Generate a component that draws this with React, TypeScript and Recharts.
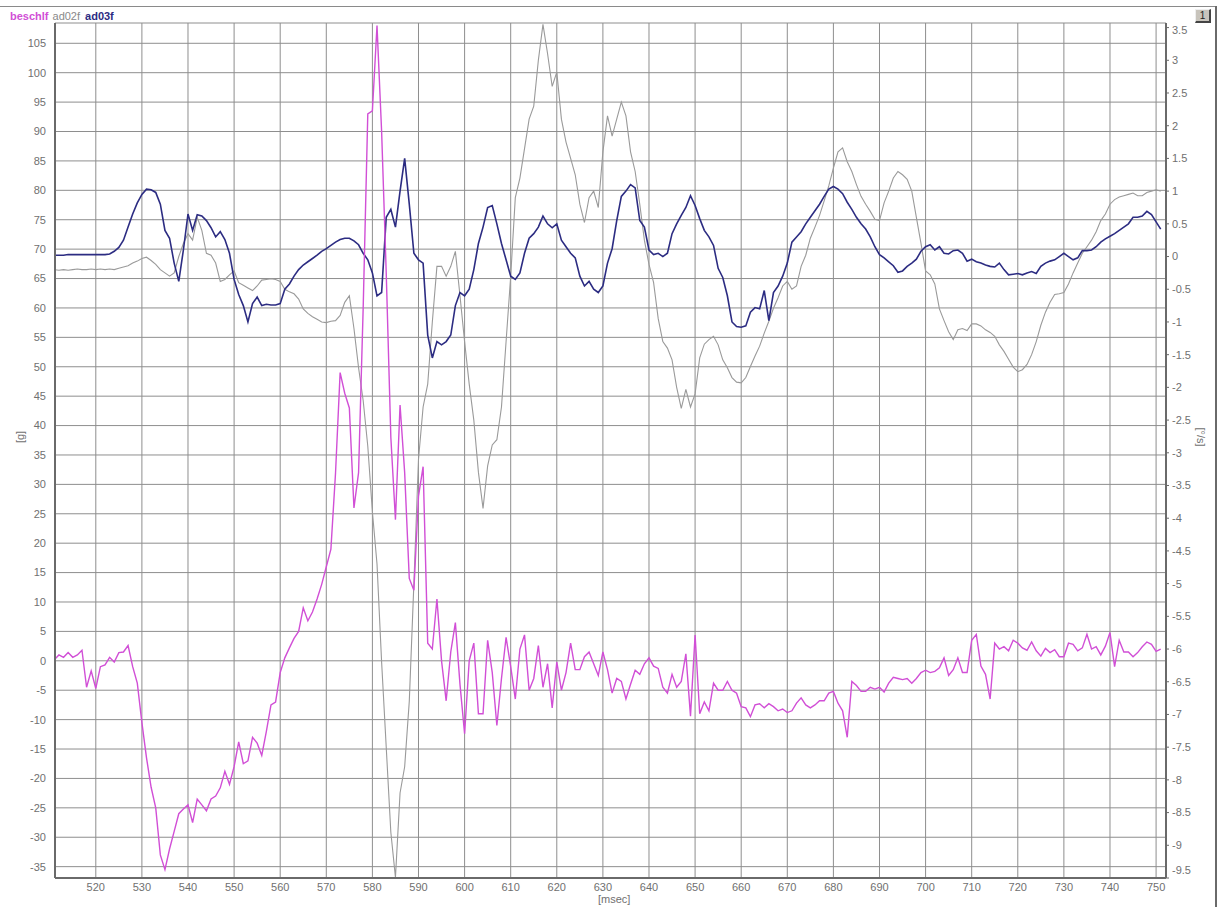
import React from 'react'
import { LineChart, Line, XAxis, YAxis, CartesianGrid } from 'recharts'

// samples every 1 ms, 511 .. 751
const times = Array.from({ length: 241 }, (_, i) => 511 + i)

// beschlf [g], left axis
const beschlf = [
  0.2, 1.0, 0.6, 1.4, 0.6, 1.0, 1.8, -4.5, -1.7, -4.7,
  -1.0, -0.7, 0.6, -0.2, 1.4, 1.5, 2.6, -1.0, -3.8, -10.5,
  -16.5, -21.5, -25.0, -33.0, -35.5, -32.0, -29.0, -26.0, -25.2, -24.5,
  -27.5, -23.5, -24.5, -25.5, -23.5, -23.0, -21.6, -18.8, -21.0, -18.0,
  -13.8, -17.5, -17.0, -13.0, -14.0, -16.1, -12.0, -7.5, -7.0, -2.0,
  0.5, 2.2, 3.8, 5.0, 9.0, 6.8, 8.3, 10.5, 13.0, 16.0,
  19.0, 31.9, 49.0, 45.5, 43.0, 26.0, 32.0, 60.0, 93.0, 93.5,
  108, 90, 66, 38, 24, 43.5, 32, 14, 12, 28,
  33, 3, 2, 10.5, 0, -6.8, 1.5, 6.5, -4, -12.4,
  0, 3, -9, -9, 3.5, -2, -11, -3, 4.0, -1.0,
  -6.5, 2, 4.4, -5, -3, 2.6, -4.5, -0.5, -8, -0.2,
  -5, -2, 3.0, -1.5, -1.5, 0.7, 1.5, -0.5, -2.5, 1.5,
  -1.5, -5.5, -3, -3.5, -6.5, -4, -1.6, -2.3, -0.5, 0.5,
  -0.9, -1.3, -4.5, -5.5, -2.3, -4.5, -3.5, 1.2, -9.4, 4.4,
  -9.0, -7.0, -8.5, -3.8, -5.0, -5.0, -3.5, -5.0, -5.5, -7.8,
  -8.0, -9.5, -7.5, -7.3, -8.0, -7.3, -7.8, -8.5, -8.2, -8.8,
  -8.5, -7.2, -6.3, -7.5, -8.0, -7.5, -6.8, -6.8, -5.5, -5.2,
  -7.2, -8.5, -13.0, -3.5, -4.2, -5.2, -5.2, -4.5, -4.8, -4.5,
  -5.3, -3.8, -2.8, -3.0, -3.2, -3.0, -3.8, -3.0, -2.0, -1.6,
  -2.0, -1.8, -1.2, 0.5, -2.5, -1.5, 0.5, -2.0, -2.0, 3.5,
  4.5, -0.9, -2.3, -6.5, 3.0, 2.0, 2.4, 1.7, 3.5, 3.0,
  2.2, 1.8, 3.2, 1.7, 0.8, 2.1, 1.4, 1.9, 0.7, 0.7,
  3.0, 2.8, 1.7, 2.2, 4.5, 2.0, 2.4, 1.0, 2.5, 4.8,
  -1.0, 3.5, 1.5, 1.5, 0.7, 1.4, 2.4, 3.2, 2.8, 1.6,
  2.0,
]

// ad02f, right axis
const ad02f = [
  -0.2, -0.21, -0.2, -0.21, -0.2, -0.19, -0.2, -0.2, -0.19, -0.2,
  -0.19, -0.2, -0.19, -0.2, -0.18, -0.16, -0.14, -0.1, -0.07, -0.03,
  -0.01, -0.06, -0.12, -0.2, -0.25, -0.3, -0.25, 0.0, 0.2, 0.35,
  0.25, 0.6, 0.4, 0.05, 0.02, -0.1, -0.38, -0.35, -0.28, -0.22,
  -0.4, -0.44, -0.48, -0.52, -0.45, -0.36, -0.35, -0.34, -0.35, -0.38,
  -0.5, -0.54, -0.57, -0.65, -0.8, -0.87, -0.92, -0.96, -1.0, -1.01,
  -0.99, -0.98, -0.9, -0.7, -0.6, -1.1, -1.7, -2.2, -2.9, -3.9,
  -4.7, -6.2, -7.5, -8.8, -9.49, -8.2, -7.8, -6.8, -5.0, -3.1,
  -2.3, -1.95, -1.0, -0.15, -0.15, -0.3, -0.15, 0.08, -0.6, -1.3,
  -1.95, -2.5, -3.3, -3.85, -3.2, -2.88, -2.8, -2.3, -1.3, -0.3,
  0.9, 1.2, 1.65, 2.1, 2.3, 3.0, 3.55, 3.1, 2.6, 2.82,
  2.1, 1.75, 1.5, 1.25, 0.8, 0.52, 0.9, 1.0, 0.75, 1.6,
  2.15, 1.84, 2.1, 2.36, 2.15, 1.6, 1.3, 0.8, 0.25, -0.12,
  -0.4, -0.95, -1.3, -1.4, -1.58, -2.0, -2.32, -2.03, -2.3, -2.1,
  -1.55, -1.34, -1.27, -1.22, -1.35, -1.58, -1.7, -1.85, -1.92, -1.93,
  -1.85, -1.68, -1.52, -1.37, -1.17, -0.99, -0.79, -0.63, -0.45, -0.38,
  -0.5, -0.45, -0.15, 0.02, 0.28, 0.45, 0.63, 0.85, 1.08, 1.35,
  1.6, 1.66, 1.45, 1.3, 1.1, 0.92, 0.8, 0.69, 0.57, 0.55,
  0.82, 1.0, 1.2, 1.3, 1.25, 1.18, 1.0, 0.6, 0.2, -0.22,
  -0.28, -0.42, -0.8, -0.98, -1.15, -1.27, -1.12, -1.1, -1.13, -1.03,
  -1.03, -1.06, -1.12, -1.16, -1.22, -1.35, -1.45, -1.57, -1.69, -1.76,
  -1.73, -1.65, -1.5, -1.3, -1.05, -0.85, -0.7, -0.58, -0.57, -0.55,
  -0.42, -0.25, -0.1, 0.05, 0.15, 0.25, 0.38, 0.55, 0.65, 0.8,
  0.87, 0.91, 0.93, 0.95, 0.97, 0.93, 0.93, 0.98, 1.0, 1.02,
  1.0,
]

// ad03f, right axis
const ad03f = [
  0.02, 0.02, 0.02, 0.03, 0.03, 0.03, 0.03, 0.03, 0.03, 0.03,
  0.03, 0.03, 0.04, 0.08, 0.14, 0.25, 0.45, 0.65, 0.82, 0.95,
  1.03, 1.02, 0.98, 0.8, 0.4, 0.28, -0.1, -0.38, 0.1, 0.65,
  0.4, 0.64, 0.62, 0.55, 0.44, 0.3, 0.38, 0.26, 0.05, -0.35,
  -0.58, -0.75, -1.0, -0.72, -0.62, -0.75, -0.73, -0.74, -0.74, -0.72,
  -0.5, -0.42, -0.3, -0.2, -0.13, -0.08, -0.03, 0.02, 0.08, 0.12,
  0.17, 0.22, 0.26, 0.28, 0.28, 0.24, 0.18, 0.05, -0.05, -0.25,
  -0.6, -0.55, 0.6, 0.72, 0.45, 1.0, 1.5, 0.8, 0.05, -0.05,
  -0.1, -1.2, -1.55, -1.3, -1.35, -1.3, -1.2, -0.75, -0.55, -0.6,
  -0.5, -0.2, 0.2, 0.45, 0.75, 0.78, 0.5, 0.2, -0.05, -0.3,
  -0.35, -0.25, 0.05, 0.28, 0.35, 0.45, 0.62, 0.5, 0.44, 0.5,
  0.25, 0.15, 0.05, -0.02, -0.3, -0.45, -0.38, -0.5, -0.55, -0.45,
  -0.1, 0.12, 0.55, 0.92, 1.0, 1.1, 1.05, 0.55, 0.45, 0.1,
  0.03, 0.05, 0.0, 0.05, 0.35, 0.5, 0.63, 0.75, 0.93, 0.78,
  0.58, 0.4, 0.3, 0.17, -0.18, -0.32, -0.6, -1.0, -1.07, -1.08,
  -1.06, -0.85, -0.78, -0.8, -0.52, -0.98, -0.55, -0.45, -0.3, -0.1,
  0.22, 0.3, 0.38, 0.5, 0.6, 0.7, 0.8, 0.92, 1.03, 1.07,
  1.03, 0.96, 0.83, 0.72, 0.6, 0.5, 0.42, 0.3, 0.15, 0.03,
  -0.02, -0.08, -0.14, -0.24, -0.22, -0.15, -0.1, -0.04, 0.08, 0.15,
  0.18, 0.1, 0.15, 0.05, 0.04, 0.09, 0.1, 0.05, -0.07, -0.04,
  -0.08, -0.1, -0.13, -0.15, -0.16, -0.1, -0.2, -0.28, -0.27, -0.26,
  -0.28, -0.25, -0.23, -0.26, -0.15, -0.1, -0.07, -0.05, 0.0, 0.05,
  0.0, -0.05, -0.02, 0.09, 0.09, 0.1, 0.15, 0.22, 0.27, 0.31,
  0.35, 0.4, 0.45, 0.5, 0.6, 0.6, 0.62, 0.69, 0.64, 0.53,
  0.42,
]

const xTicks = [520, 530, 540, 550, 560, 570, 580, 590, 600, 610, 620, 630, 640, 650, 660, 670, 680, 690, 700, 710, 720, 730, 740, 750]
const leftTicks = [-35, -30, -25, -20, -15, -10, -5, 0, 5, 10, 15, 20, 25, 30, 35, 40, 45, 50, 55, 60, 65, 70, 75, 80, 85, 90, 95, 100, 105]
const rightTicks = [-9.5, -9, -8.5, -8, -7.5, -7, -6.5, -6, -5.5, -5, -4.5, -4, -3.5, -3, -2.5, -2, -1.5, -1, -0.5, 0, 0.5, 1, 1.5, 2, 2.5, 3, 3.5]

const rows = times.map((t, i) => ({ t, beschlf: beschlf[i], ad02f: ad02f[i], ad03f: ad03f[i] }))

const FONT = '"Liberation Sans", Arial, sans-serif'
const TEXT = '#707070'
const tickStyle = { fill: TEXT, fontSize: 11, fontFamily: FONT }

// right axis labels sit a little inside the plot's top and bottom edges
function RightTick(props: any) {
  const { x, y, payload } = props
  const ty = Math.min(Math.max(y, 30), 870)
  return (
    <text x={x} y={ty} dy="0.355em" textAnchor="start" fill={TEXT} fontSize={11} fontFamily={FONT}>
      {payload.value}
    </text>
  )
}

export default function App() {
  return (
    <div style={{ position: 'absolute', left: 0, top: 0, width: 1223, height: 907, background: '#fff', fontFamily: FONT }}>
      <div style={{ position: 'absolute', left: 0, top: 6, width: 1215, borderTop: '1px solid #8a8a8a' }} />
      <div style={{ position: 'absolute', left: 1215, top: 6, height: 901, borderLeft: '2px solid #6a6a6a' }} />
      <div
        style={{
          position: 'absolute', left: 1195, top: 9, width: 16, height: 14,
          background: '#c8c4bc', borderTop: '1px solid #eee', borderLeft: '1px solid #eee',
          borderRight: '2px solid #444', borderBottom: '2px solid #444', boxSizing: 'border-box',
          fontSize: 10, lineHeight: '11px', textAlign: 'center', color: '#222',
        }}
      >
        1
      </div>

      <div style={{ position: 'absolute', left: 10, top: 10, fontSize: 11, whiteSpace: 'nowrap' }}>
        <span style={{ color: '#d14fd6', fontWeight: 'bold' }}>beschlf</span>
        <span style={{ color: '#8a8a8a', marginLeft: 4 }}>ad02f</span>
        <span style={{ color: '#2c2c82', fontWeight: 'bold', marginLeft: 5 }}>ad03f</span>
      </div>

      <LineChart width={1223} height={907} data={rows} margin={{ top: 23, right: 0, bottom: 0, left: 0 }}>
        <CartesianGrid xAxisId="x" yAxisId="left" stroke="#8e8e8e" strokeWidth={1} />
        <XAxis
          xAxisId="x"
          dataKey="t"
          type="number"
          domain={[511.15, 752.15]}
          allowDataOverflow
          ticks={xTicks}
          height={29}
          tickSize={0}
          tickMargin={5}
          tick={tickStyle}
          axisLine={{ stroke: '#6a6a6a', strokeWidth: 2 }}
          interval={0}
        />
        <YAxis
          yAxisId="left"
          type="number"
          domain={[-36.93, 108.45]}
          allowDataOverflow
          ticks={leftTicks}
          width={55}
          tickSize={0}
          tickMargin={9}
          tick={tickStyle}
          axisLine={{ stroke: '#6a6a6a', strokeWidth: 2 }}
          interval={0}
        />
        <YAxis
          yAxisId="right"
          orientation="right"
          type="number"
          domain={[-9.5, 3.57]}
          allowDataOverflow
          ticks={rightTicks}
          width={57}
          tickSize={3}
          tickMargin={3}
          tick={<RightTick />}
          tickLine={{ stroke: '#6a6a6a' }}
          axisLine={{ stroke: '#6a6a6a', strokeWidth: 2 }}
          interval={0}
        />
        <Line xAxisId="x" yAxisId="right" type="linear" dataKey="ad02f" stroke="#9a9a9a" strokeWidth={1.1} dot={false} isAnimationActive={false} />
        <Line xAxisId="x" yAxisId="right" type="linear" dataKey="ad03f" stroke="#2c2c82" strokeWidth={1.6} dot={false} isAnimationActive={false} />
        <Line xAxisId="x" yAxisId="left" type="linear" dataKey="beschlf" stroke="#d14fd6" strokeWidth={1.4} dot={false} isAnimationActive={false} />
      </LineChart>

      <div style={{ position: 'absolute', left: 598, top: 893, fontSize: 11, color: TEXT }}>[msec]</div>
      <div
        style={{
          position: 'absolute', left: 20, top: 437, fontSize: 11, color: TEXT,
          transform: 'translate(-50%, -50%) rotate(-90deg)', whiteSpace: 'nowrap',
        }}
      >
        [g]
      </div>
      <div
        style={{
          position: 'absolute', left: 1201, top: 437, fontSize: 11, color: TEXT,
          transform: 'translate(-50%, -50%) rotate(90deg)', whiteSpace: 'nowrap',
        }}
      >
        [°/s]
      </div>
    </div>
  )
}
